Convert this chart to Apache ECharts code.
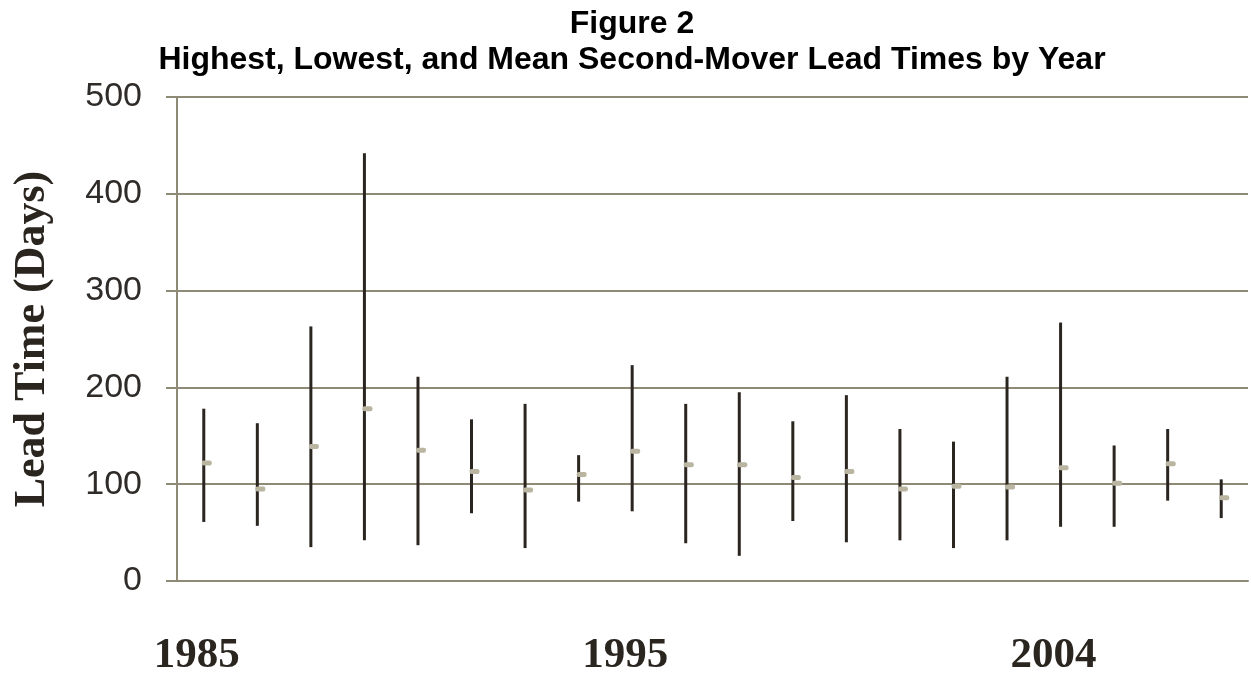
<!DOCTYPE html>
<html>
<head>
<meta charset="utf-8">
<script src="https://cdn.jsdelivr.net/npm/echarts@6/dist/echarts.min.js"></script>
<style>
html,body{margin:0;padding:0;background:#fff;}
#chart{width:1251px;height:690px;}
</style>
</head>
<body>
<div id="chart"></div>
<script>
var years = ['1985','1986','1987','1988','1989','1990','1991','1992','1993','1994',
             '1995','1996','1997','1998','1999','2000','2001','2002','2003','2004'];
var xTickLabels = ['1985','','','','','','','','1995','','','','','','','','2004','','',''];
var highValues = [178, 163, 263, 442, 211, 167, 183, 130, 223, 183, 195, 165, 192, 157, 144, 211, 267, 140, 157, 105];
var lowValues  = [61, 57, 35, 42, 37, 70, 34, 82, 72, 39, 26, 62, 40, 42, 34, 42, 56, 56, 83, 65];
var meanValues = [122, 95, 139, 178, 135, 113, 94, 110, 134, 120, 120, 107, 113, 95, 98, 97, 117, 101, 121, 86];
var yTicks = [0, 100, 200, 300, 400, 500];

var seriesData = years.map(function (y, i) {
  return [i, lowValues[i], highValues[i], meanValues[i]];
});

var chart = echarts.init(document.getElementById('chart'));
var axisColor = '#8f8a75';

chart.setOption({
  animation: false,
  backgroundColor: '#ffffff',
  title: {
    text: 'Figure 2\nHighest, Lowest, and Mean Second-Mover Lead Times by Year',
    left: 627,
    top: 1,
    textAlign: 'center',
    textStyle: {
      fontFamily: 'Liberation Sans, Arial, sans-serif',
      fontWeight: 'bold',
      fontSize: 32,
      lineHeight: 36,
      color: '#000000'
    }
  },
  grid: {
    left: 177,
    right: 3,
    top: 97,
    bottom: 109,
    containLabel: false
  },
  xAxis: {
    type: 'category',
    data: years,
    boundaryGap: true,
    axisLine: { show: true, lineStyle: { color: axisColor, width: 2 } },
    axisTick: { show: false },
    splitLine: { show: false },
    axisLabel: {
      interval: 0,
      margin: 53,
      formatter: function (v, i) { return xTickLabels[i]; },
      fontFamily: 'Liberation Serif, Times New Roman, serif',
      fontWeight: 'bold',
      fontSize: 43,
      color: '#2b2520',
      padding: [0, 14, 0, 0]
    }
  },
  yAxis: {
    type: 'value',
    min: yTicks[0],
    max: yTicks[yTicks.length - 1],
    interval: 100,
    name: 'Lead Time (Days)',
    nameLocation: 'middle',
    nameGap: 122,
    nameTextStyle: {
      fontFamily: 'Liberation Serif, Times New Roman, serif',
      fontWeight: 'bold',
      fontSize: 44,
      color: '#2b2520'
    },
    axisLine: { show: true, lineStyle: { color: axisColor, width: 2 } },
    axisTick: { show: true, length: 11, lineStyle: { color: axisColor, width: 2 } },
    splitLine: { show: true, lineStyle: { color: axisColor, width: 2 } },
    axisLabel: {
      margin: 35,
      fontFamily: 'Liberation Sans, Arial, sans-serif',
      fontSize: 34,
      color: '#2e2b28'
    }
  },
  series: [{
    type: 'custom',
    data: seriesData,
    encode: { x: 0, y: [1, 2, 3] },
    renderItem: function (params, api) {
      var x = api.value(0);
      var pLow = api.coord([x, api.value(1)]);
      var pHigh = api.coord([x, api.value(2)]);
      var pMean = api.coord([x, api.value(3)]);
      return {
        type: 'group',
        children: [{
          type: 'line',
          shape: { x1: pLow[0], y1: pLow[1], x2: pHigh[0], y2: pHigh[1] },
          style: { stroke: '#2b2520', lineWidth: 3 }
        }, {
          type: 'rect',
          shape: { x: pMean[0] - 2, y: pMean[1] - 2.5, width: 10, height: 5, r: 2 },
          style: { fill: '#bab5a1' }
        }]
      };
    }
  }]
});
</script>
</body>
</html>
